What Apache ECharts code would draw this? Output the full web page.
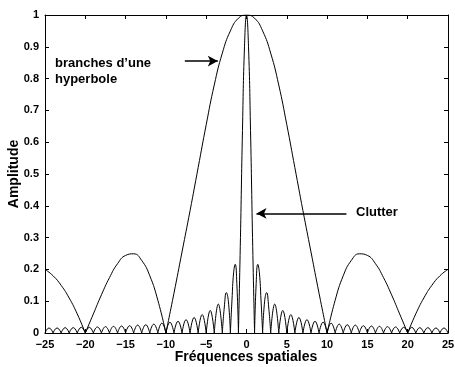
<!DOCTYPE html>
<html style="height: 100%">
   <head>
       <meta charset="utf-8">
   </head>
   <body style="height: 100%; margin: 0">
       <div id="container" style="height: 100%"></div>
       <script type="text/javascript" src="https://cdn.jsdelivr.net/npm/echarts@6/dist/echarts.min.js"></script>
       <script type="text/javascript">
// wide curve ("branches d'une hyperbole")
var wideX = [-25, -24, -23, -22, -21, -20, -19, -18, -17, -16, -15, -14, -13, -12, -11, -10,
             -9, -8, -7, -6, -5, -4, -3, -2, -1, 0, 1, 2, 3, 4, 5, 6, 7, 8, 9,
             10, 11, 12, 13, 14, 15, 16, 17, 18, 19, 20, 21, 22, 23, 24, 25];
var wideY = [0.2, 0.18, 0.15, 0.11, 0.06, 0, 0.06, 0.12, 0.174, 0.218, 0.244, 0.249, 0.228, 0.18, 0.103, 0,
             0.125, 0.255, 0.385, 0.52, 0.655, 0.78, 0.88, 0.95, 0.99, 1, 0.99, 0.95, 0.88, 0.78, 0.655, 0.52, 0.385, 0.255, 0.125,
             0, 0.103, 0.18, 0.228, 0.249, 0.244, 0.218, 0.174, 0.12, 0.06, 0, 0.06, 0.11, 0.15, 0.18, 0.2];

// narrow curve ("Clutter")
var narrowX = [-25, -24.5, -24, -23.5, -23, -22.5, -22, -21.5, -21, -20.5, -20, -19.5, -19, -18.5, -18, -17.5,
               -17, -16.5, -16, -15.5, -15, -14.5, -14, -13.5, -13, -12.5, -12, -11.5, -11, -10.5, -10, -9.5,
               -9, -8.5, -8, -7.5, -7, -6.5, -6, -5.5, -5, -4.5, -4, -3.5, -3,
               -2.75, -2.5, -2.25, -2, -1.8, -1.6, -1.4, -1.2, -1, -0.75, -0.5, -0.25, 0,
               0.25, 0.5, 0.75, 1, 1.2, 1.4, 1.6, 1.8, 2, 2.25, 2.5, 2.75,
               3, 3.5, 4, 4.5, 5, 5.5, 6, 6.5, 7, 7.5, 8, 8.5, 9, 9.5, 10, 10.5, 11, 11.5, 12, 12.5,
               13, 13.5, 14, 14.5, 15, 15.5, 16, 16.5, 17, 17.5, 18, 18.5, 19, 19.5, 20, 20.5,
               21, 21.5, 22, 22.5, 23, 23.5, 24, 24.5, 25];
var narrowY = [0, 0.016, 0, 0.016, 0, 0.017, 0, 0.017, 0, 0.018, 0, 0.018, 0, 0.019, 0, 0.02,
               0, 0.021, 0, 0.022, 0, 0.023, 0, 0.025, 0, 0.026, 0, 0.028, 0, 0.031, 0, 0.034,
               0, 0.037, 0, 0.042, 0, 0.049, 0, 0.058, 0, 0.071, 0, 0.091, 0,
               0.082, 0.127, 0.1, 0, 0.104, 0.189, 0.216, 0.156, 0, 0.3, 0.637, 0.9, 1,
               0.9, 0.637, 0.3, 0, 0.156, 0.216, 0.189, 0.104, 0, 0.1, 0.127, 0.082,
               0, 0.091, 0, 0.071, 0, 0.058, 0, 0.049, 0, 0.042, 0, 0.037, 0, 0.034, 0, 0.031, 0, 0.028, 0, 0.026,
               0, 0.025, 0, 0.023, 0, 0.022, 0, 0.021, 0, 0.02, 0, 0.019, 0, 0.018, 0, 0.018,
               0, 0.017, 0, 0.017, 0, 0.016, 0, 0.016, 0];

var xTicks = [-25, 25, 5];
var yTicks = [0, 1, 0.1];

// split a curve into arches at its zeros so the cusps stay sharp
function arches(xs, ys) {
    var segs = [], cur = [];
    for (var i = 0; i < xs.length; i++) {
        cur.push([xs[i], ys[i]]);
        if (ys[i] === 0 && cur.length > 1) {
            segs.push(cur);
            cur = [[xs[i], ys[i]]];
        }
    }
    if (cur.length > 1) segs.push(cur);
    return segs;
}

var dom = document.getElementById("container");
var myChart = echarts.init(dom);
var font = '"Liberation Sans", Arial, sans-serif';
var labelStyle = {color: '#000', fontFamily: font, fontWeight: 'bold', fontSize: 11};

var series = [];
arches(wideX, wideY).concat(arches(narrowX, narrowY)).forEach(function (seg) {
    series.push({
        type: 'line',
        data: seg,
        smooth: 0.5,
        showSymbol: false,
        silent: true,
        lineStyle: {color: '#000', width: 1}
    });
});

var arrowStyle = {color: '#000', width: 1.6, type: 'solid'};
series.push({
    type: 'line',
    data: [],
    silent: true,
    markLine: {
        silent: true,
        symbol: ['none', 'arrow'],
        symbolSize: [8, 10],
        label: {show: false},
        lineStyle: arrowStyle,
        data: [
            [{coord: [-7.65, 0.855]}, {coord: [-3.56, 0.855]}],
            [{coord: [12.4, 0.376]}, {coord: [1.24, 0.376]}]
        ]
    }
});

function boxAxis(show) {
    return {
        axisLine: {show: true, onZero: false, lineStyle: {color: '#000', width: 1}},
        axisTick: {show: true, inside: true, length: 4, lineStyle: {color: '#000'}},
        splitLine: {show: false},
        axisLabel: {show: show}
    };
}

var xBottom = boxAxis(true);
xBottom.axisLabel = Object.assign({margin: 6, formatter: function (v) {
    return v < 0 ? '\u2212' + Math.abs(v) : '' + v;
}}, labelStyle);
var yLeft = boxAxis(true);
yLeft.axisLabel = Object.assign({margin: 6}, labelStyle);

option = {
    animation: false,
    backgroundColor: '#fff',
    grid: {left: 45, right: 7, top: 15, bottom: 34, containLabel: false, outerBoundsMode: 'none'},
    xAxis: [
        Object.assign({type: 'value', position: 'bottom', min: xTicks[0], max: xTicks[1], interval: xTicks[2]}, xBottom),
        Object.assign({type: 'value', position: 'top', min: xTicks[0], max: xTicks[1], interval: xTicks[2]}, boxAxis(false))
    ],
    yAxis: [
        Object.assign({type: 'value', position: 'left', min: yTicks[0], max: yTicks[1], interval: yTicks[2]}, yLeft),
        Object.assign({type: 'value', position: 'right', min: yTicks[0], max: yTicks[1], interval: yTicks[2]}, boxAxis(false))
    ],
    graphic: [
        // axis titles
        {type: 'text', x: 246, y: 357, style: {text: 'Fréquences spatiales', fill: '#000',
            font: 'bold 14px ' + font, align: 'center', verticalAlign: 'middle'}},
        {type: 'text', x: 14, y: 174, rotation: Math.PI / 2, style: {text: 'Amplitude', fill: '#000',
            font: 'bold 14px ' + font, align: 'center', verticalAlign: 'middle'}},
        // annotations
        {type: 'text', left: 55, top: 55, style: {text: 'branches d\u2019une\nhyperbole', fill: '#000',
            font: 'bold 13px ' + font, lineHeight: 16}},
        {type: 'text', left: 356, top: 206, style: {text: 'Clutter', fill: '#000',
            font: 'bold 13px ' + font}}
    ],
    series: series
};

if (option && typeof option === "object") {
    myChart.setOption(option, true);
}
       </script>
   </body>
</html>
